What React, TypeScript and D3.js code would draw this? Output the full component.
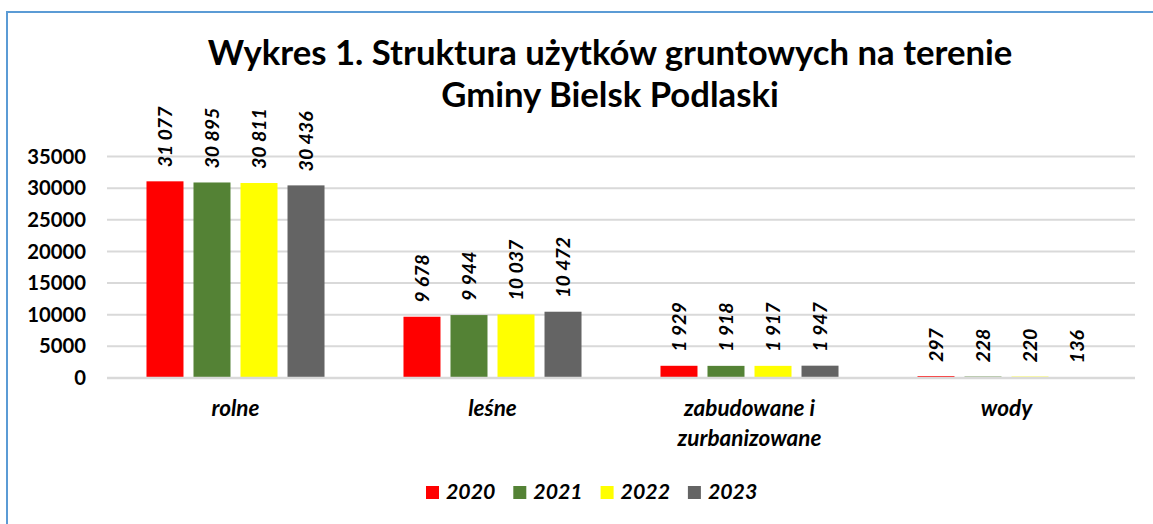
import React from "react";
import * as d3 from "d3";

const categories = ["rolne", "leśne", "zabudowane i\nzurbanizowane", "wody"];
const years = ["2020", "2021", "2022", "2023"];
const values2020 = [31077, 9678, 1929, 297];
const values2021 = [30895, 9944, 1918, 228];
const values2022 = [30811, 10037, 1917, 220];
const values2023 = [30436, 10472, 1947, 136];
const yTicks = [0, 5000, 10000, 15000, 20000, 25000, 30000, 35000];
const colors = ["#FF0000", "#548235", "#FFFF00", "#646464"];
const titleLines = ["Wykres 1. Struktura użytków gruntowych na terenie", "Gminy Bielsk Podlaski"];

const W = 1153;
const H = 524;
const FONT = "Lato, 'Open Sans', sans-serif";

function fmt(v: number): string {
  const s = String(v);
  return s.replace(/\B(?=(\d{3})+(?!\d))/g, " ");
}

export default function App() {
  const series = [values2020, values2021, values2022, values2023];
  const x = d3.scaleBand<string>().domain(categories).range([107, 1135]).padding(0);
  const inner = d3
    .scaleBand<string>()
    .domain(years)
    .range([0, x.bandwidth()])
    .paddingInner(0.213)
    .paddingOuter(0.84);
  const y = d3.scaleLinear().domain([0, 35000]).range([378, 156.5]);

  return (
    <svg width={W} height={H} style={{ position: "absolute", left: 0, top: 0, background: "#fff" }}>
      <rect x={0} y={0} width={W} height={H} fill="#fff" />
      <rect x={7} y={12} width={W + 20} height={H + 20} fill="none" stroke="#5B9BD5" strokeWidth={2} />
      {titleLines.map((t, i) => (
        <text
          key={i}
          x={610}
          y={65 + i * 42}
          textAnchor="middle"
          fontFamily={FONT}
          fontWeight="bold"
          fontSize={34.7}
          fill="#000"
        >
          {t}
        </text>
      ))}
      {yTicks.map((t) => (
        <g key={t}>
          <line x1={107} x2={1135} y1={y(t)} y2={y(t)} stroke="#D9D9D9" strokeWidth={2} />
          <text
            x={86}
            y={y(t)}
            dy="0.35em"
            textAnchor="end"
            fontFamily={FONT}
            fontWeight="bold"
            fontSize={20.3}
            fill="#000"
          >
            {t}
          </text>
        </g>
      ))}
      {categories.map((c, ci) => (
        <g key={c}>
          {years.map((yr, si) => {
            const v = series[si][ci];
            const bx = (x(c) as number) + (inner(yr) as number);
            const bw = inner.bandwidth();
            const top = y(v);
            const cx = bx + bw / 2;
            return (
              <g key={yr}>
                <rect x={bx} y={top} width={bw} height={y(0) - top} fill={colors[si]} />
                <text
                  transform={`translate(${cx},${top - 14}) rotate(-90)`}
                  dy="0.35em"
                  textAnchor="start"
                  fontFamily={FONT}
                  fontWeight="bold"
                  fontStyle="italic"
                  fontSize={19.5}
                  fill="#000"
                >
                  {fmt(v)}
                </text>
              </g>
            );
          })}
          {c.split("\n").map((line, li) => (
            <text
              key={li}
              x={(x(c) as number) + x.bandwidth() / 2}
              y={416 + li * 30}
              textAnchor="middle"
              fontFamily={FONT}
              fontWeight="bold"
              fontStyle="italic"
              fontSize={22.5}
              fill="#000"
            >
              {line}
            </text>
          ))}
        </g>
      ))}
      <line x1={107} x2={1135} y1={y(0)} y2={y(0)} stroke="#D9D9D9" strokeWidth={2.5} />
      {years.map((yr, i) => {
        const lx = 426 + i * 87.3;
        return (
          <g key={yr}>
            <rect x={lx} y={486} width={13} height={13} fill={colors[i]} />
            <text
              x={lx + 20}
              y={499}
              fontFamily={FONT}
              fontWeight="bold"
              fontStyle="italic"
              fontSize={21.3}
              fill="#000"
            >
              {yr}
            </text>
          </g>
        );
      })}
    </svg>
  );
}
